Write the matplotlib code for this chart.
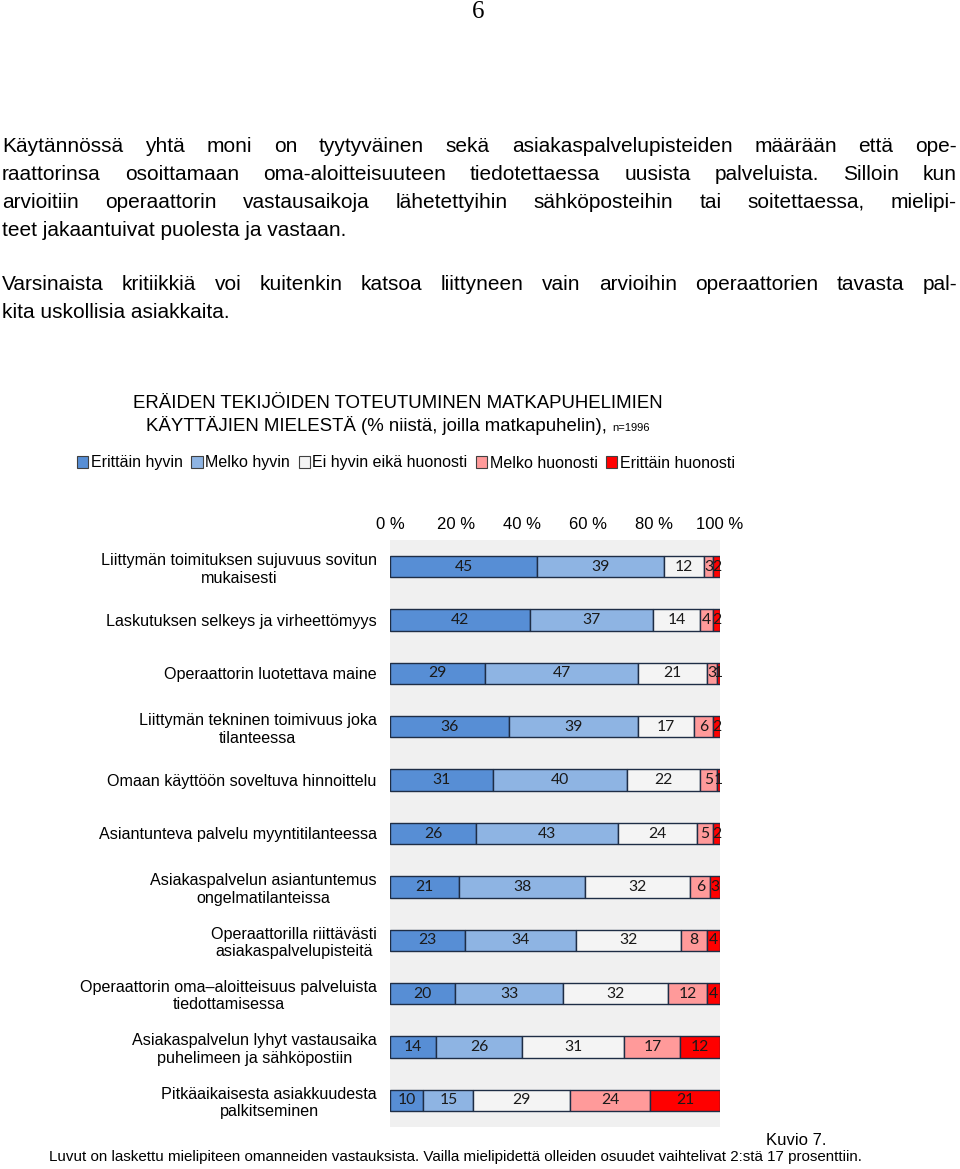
import matplotlib
matplotlib.use("Agg")
import matplotlib.pyplot as plt
from matplotlib.patches import Patch
import numpy as np

# ---------------- data ----------------
categories = [
    "Liittymän toimituksen sujuvuus sovitun\nmukaisesti",
    "Laskutuksen selkeys ja virheettömyys",
    "Operaattorin luotettava maine",
    "Liittymän tekninen toimivuus joka\ntilanteessa",
    "Omaan käyttöön soveltuva hinnoittelu",
    "Asiantunteva palvelu myyntitilanteessa",
    "Asiakaspalvelun asiantuntemus\nongelmatilanteissa",
    "Operaattorilla riittävästi\nasiakaspalvelupisteitä",
    "Operaattorin oma\u2013aloitteisuus palveluista\ntiedottamisessa",
    "Asiakaspalvelun lyhyt vastausaika\npuhelimeen ja sähköpostiin",
    "Pitkäaikaisesta asiakkuudesta\npalkitseminen",
]
series_names = ["Erittäin hyvin", "Melko hyvin", "Ei hyvin eikä huonosti",
                "Melko huonosti", "Erittäin huonosti"]
erittain_hyvin = [45, 42, 29, 36, 31, 26, 21, 23, 20, 14, 10]
melko_hyvin = [39, 37, 47, 39, 40, 43, 38, 34, 33, 26, 15]
ei_hyvin_eika_huonosti = [12, 14, 21, 17, 22, 24, 32, 32, 32, 31, 29]
melko_huonosti = [3, 4, 3, 6, 5, 5, 6, 8, 12, 17, 24]
erittain_huonosti = [2, 2, 1, 2, 1, 2, 3, 4, 4, 12, 21]
tick_values = [0, 20, 40, 60, 80, 100]
tick_labels = ["0 %", "20 %", "40 %", "60 %", "80 %", "100 %"]

page_number = "6"
paragraph1 = [
    "Käytännössä yhtä moni on tyytyväinen sekä asiakaspalvelupisteiden määrään että ope-",
    "raattorinsa osoittamaan oma-aloitteisuuteen tiedotettaessa uusista palveluista. Silloin kun",
    "arvioitiin operaattorin vastausaikoja lähetettyihin sähköposteihin tai soitettaessa, mielipi-",
    "teet jakaantuivat puolesta ja vastaan.",
]
paragraph2 = [
    "Varsinaista kritiikkiä voi kuitenkin katsoa liittyneen vain arvioihin operaattorien tavasta pal-",
    "kita uskollisia asiakkaita.",
]
title_line1 = "ERÄIDEN TEKIJÖIDEN TOTEUTUMINEN MATKAPUHELIMIEN"
title_line2 = "KÄYTTÄJIEN MIELESTÄ (% niistä, joilla matkapuhelin), "
title_n = "n=1996"
caption = "Kuvio 7."
footnote = ("Luvut on laskettu mielipiteen omanneiden vastauksista. Vailla mielipidettä "
            "olleiden osuudet vaihtelivat 2:stä 17 prosenttiin.")

# ---------------- style ----------------
colors = ["#578ED5", "#8EB4E3", "#F4F4F4", "#FF9A9A", "#FF0000"]
edge = "#1E2D45"
SANS = "Liberation Sans"
W, H = 960, 1169

fig = plt.figure(figsize=(W / 100, H / 100), dpi=100)
fig.patch.set_facecolor("white")
renderer = fig.canvas.get_renderer()


def fx(x):
    return x / W


def fy(y):
    return 1 - y / H


# page number
fig.text(fx(478), fy(12), page_number, family="Liberation Serif", fontsize=18,
         ha="center", va="center")


def justify(lines, baselines, x0=2, x1=957, size=15):
    for i, (line, yb) in enumerate(zip(lines, baselines)):
        last = i == len(lines) - 1
        if last:
            fig.text(fx(x0), fy(yb), line, family=SANS, fontsize=size,
                     ha="left", va="baseline")
            continue
        words = line.split(" ")
        ts = [fig.text(0, fy(yb), w, family=SANS, fontsize=size,
                       ha="left", va="baseline") for w in words]
        ws = [t.get_window_extent(renderer).width for t in ts]
        gap = (x1 - x0 - sum(ws)) / (len(ws) - 1)
        x = x0
        for t, w in zip(ts, ws):
            t.set_x(fx(x))
            x += w + gap


justify(paragraph1, [152, 180, 208, 236])
justify(paragraph2, [290, 318])

# chart title
fig.text(fx(398), fy(408), title_line1, family=SANS, fontsize=13.4,
         ha="center", va="baseline")
t_main = fig.text(0, fy(431), title_line2, family=SANS, fontsize=13.4,
                  ha="left", va="baseline")
t_n = fig.text(0, fy(431), title_n, family=SANS, fontsize=8,
               ha="left", va="baseline")
w_main = t_main.get_window_extent(renderer).width
w_n = t_n.get_window_extent(renderer).width
x_start = 398 - (w_main + w_n) / 2
t_main.set_x(fx(x_start))
t_n.set_x(fx(x_start + w_main))

# ---------------- chart ----------------
ax = fig.add_axes([fx(390), fy(1127), fx(720) - fx(390), (1127 - 540) / H])
ax.set_facecolor("#F0F0F0")

data = np.array([erittain_hyvin, melko_hyvin, ei_hyvin_eika_huonosti,
                 melko_huonosti, erittain_huonosti], dtype=float)
totals = data.sum(axis=0)
shares = data / totals * 100
ypos = np.arange(len(categories))
left = np.zeros(len(categories))
for k in range(data.shape[0]):
    ax.barh(ypos, shares[k], left=left, height=0.4, color=colors[k],
            edgecolor=edge, linewidth=1.0, label=series_names[k])
    for j in range(len(categories)):
        ax.text(left[j] + shares[k][j] / 2, ypos[j], f"{int(data[k][j])}",
                family="Lato", fontsize=11.3, color="#1a1a1a",
                ha="center", va="center")
    left += shares[k]

ax.set_xlim(0, 100)
ax.set_ylim(len(categories) - 0.5, -0.5)
ax.xaxis.tick_top()
ax.set_xticks(tick_values)
ax.set_xticklabels(tick_labels, family=SANS, fontsize=12)
ax.set_yticks(ypos)
ax.set_yticklabels(categories, family=SANS, fontsize=11.6, ha="right",
                   multialignment="center")
ax.tick_params(axis="x", length=0, pad=5.5)
ax.tick_params(axis="y", length=0, pad=9.5)
for s in ax.spines.values():
    s.set_visible(False)

# legend
handles = [Patch(facecolor=c, edgecolor="#404040", linewidth=0.8) for c in colors]
fig.legend(handles, series_names, loc="center", bbox_to_anchor=(fx(406), fy(463)),
           ncol=5, frameon=False, prop={"family": SANS, "size": 11.5},
           handlelength=0.7, handleheight=0.7, handletextpad=0.15,
           columnspacing=0.55, borderpad=0)

# bottom texts
fig.text(fx(826), fy(1145), caption, family=SANS, fontsize=12,
         ha="right", va="baseline")
fig.text(fx(455), fy(1161), footnote, family=SANS, fontsize=10.9,
         ha="center", va="baseline")

fig.savefig("out.png", dpi=100)
